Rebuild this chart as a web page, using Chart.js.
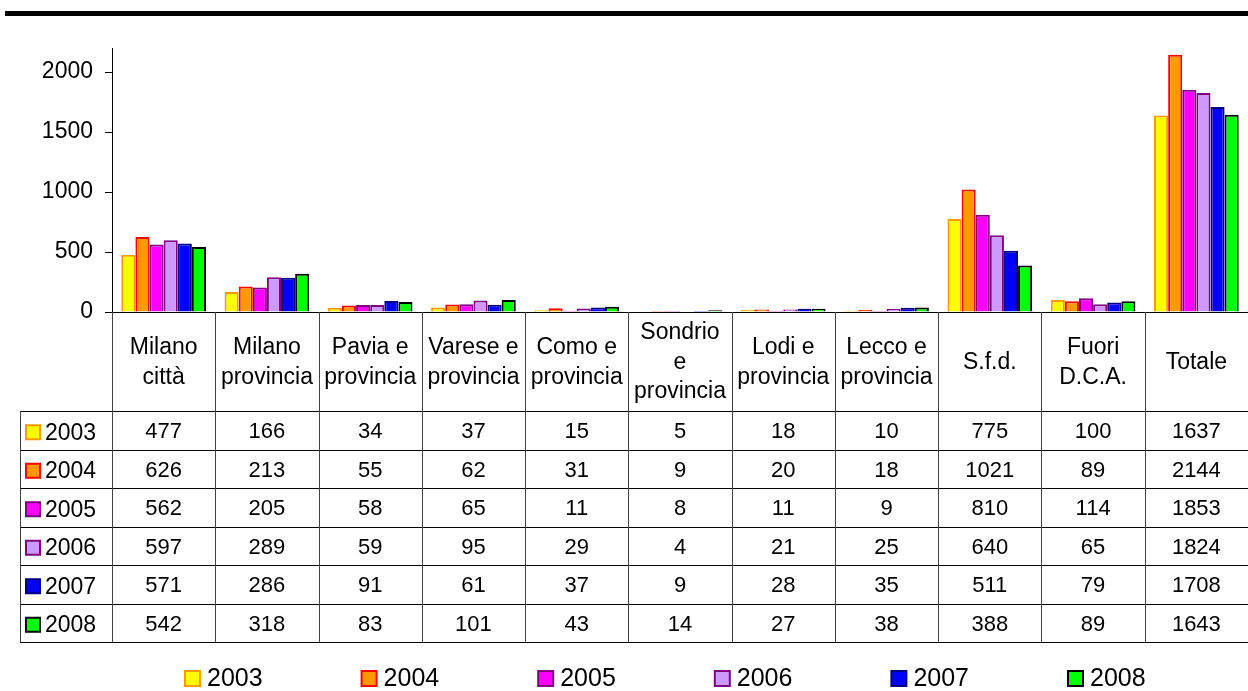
<!DOCTYPE html>
<html>
<head>
<meta charset="utf-8">
<script src="https://cdn.jsdelivr.net/npm/chart.js@4.4.0/dist/chart.umd.min.js"></script>
<style>
    html, body { margin: 0; padding: 0; background: #fff; }
    #wrap { width: 1248px; height: 691px; position: relative; }
</style>
</head>
<body>
<div id="wrap"><canvas id="chart"></canvas></div>
<script>
// Categories (header lines of the data table)
const categories = [
    ['Milano', 'città'], ['Milano', 'provincia'], ['Pavia e', 'provincia'], ['Varese e', 'provincia'],
    ['Como e', 'provincia'], ['Sondrio', 'e', 'provincia'], ['Lodi e', 'provincia'], ['Lecco e', 'provincia'],
    ['S.f.d.'], ['Fuori', 'D.C.A.'], ['Totale']
];
const years = ['2003', '2004', '2005', '2006', '2007', '2008'];

// Series values
const v2003 = [477, 166, 34, 37, 15, 5, 18, 10, 775, 100, 1637];
const v2004 = [626, 213, 55, 62, 31, 9, 20, 18, 1021, 89, 2144];
const v2005 = [562, 205, 58, 65, 11, 8, 11, 9, 810, 114, 1853];
const v2006 = [597, 289, 59, 95, 29, 4, 21, 25, 640, 65, 1824];
const v2007 = [571, 286, 91, 61, 37, 9, 28, 35, 511, 79, 1708];
const v2008 = [542, 318, 83, 101, 43, 14, 27, 38, 388, 89, 1643];
const seriesValues = [v2003, v2004, v2005, v2006, v2007, v2008];

// Colours (fill / border)
const fills = ['#FFFF00', '#FF9900', '#FF00FF', '#CC99FF', '#0000FF', '#00FF00'];
const borders = ['#FF9900', '#FF0000', '#800080', '#800080', '#000080', '#000000'];

// Y axis
const yMax = 2200;
const yTicks = [0, 500, 1000, 1500, 2000];

const FONT = '"Liberation Sans", Arial, sans-serif';

function drawKey(ctx, x, y, size, i) {
    ctx.fillStyle = borders[i];
    ctx.fillRect(x, y, size, size);
    ctx.fillStyle = fills[i];
    ctx.fillRect(x + 2, y + 2, size - 4, size - 4);
}

// Draws the top rule, data table and legend
const tablePlugin = {
    id: 'dataTable',
    beforeDraw(chart) {
        const ctx = chart.ctx;
        ctx.save();
        ctx.fillStyle = '#000';
        ctx.fillRect(5, 11, 1243, 5);
        ctx.restore();
    },
    afterDraw(chart) {
        const ctx = chart.ctx;
        const xs = chart.scales.x;
        const ys = chart.scales.y;
        const base = ys.getPixelForValue(0);
        const half = (xs.getPixelForValue(1) - xs.getPixelForValue(0)) / 2;
        const headBottom = 411;
        const rowH = 38.5;
        const tableBottom = headBottom + rowH * years.length;
        const leftCol = 20;

        ctx.save();
        // x axis line
        ctx.strokeStyle = '#000';
        ctx.lineWidth = 1;
        ctx.beginPath();
        ctx.moveTo(chart.chartArea.left, Math.round(base) + 0.5);
        ctx.lineTo(chart.chartArea.right, Math.round(base) + 0.5);
        ctx.stroke();

        // horizontal rows
        for (let r = 0; r <= years.length; r++) {
            const y = Math.round(headBottom + r * rowH) + 0.5;
            ctx.beginPath();
            ctx.moveTo(leftCol, y);
            ctx.lineTo(chart.chartArea.right, y);
            ctx.stroke();
        }
        // vertical lines
        ctx.strokeStyle = '#444';
        ctx.beginPath();
        ctx.moveTo(leftCol + 0.5, headBottom);
        ctx.lineTo(leftCol + 0.5, tableBottom);
        ctx.stroke();
        categories.forEach((c, i) => {
            const x = Math.round(xs.getPixelForValue(i) - half) + 0.5;
            ctx.beginPath();
            ctx.moveTo(x, base);
            ctx.lineTo(x, tableBottom);
            ctx.stroke();
        });

        // header labels
        ctx.fillStyle = '#000';
        ctx.textAlign = 'center';
        ctx.textBaseline = 'middle';
        ctx.font = '23px ' + FONT;
        const headMid = (base + headBottom) / 2 + 1;
        categories.forEach((lines, i) => {
            const cx = xs.getPixelForValue(i);
            const lh = 29.5;
            lines.forEach((t, k) => {
                ctx.fillText(t, cx, headMid + (k - (lines.length - 1) / 2) * lh);
            });
        });

        // rows
        years.forEach((yr, r) => {
            const cy = headBottom + r * rowH + rowH / 2 + 2;
            drawKey(ctx, 25, cy - 8, 16, r);
            ctx.fillStyle = '#000';
            ctx.textAlign = 'left';
            ctx.font = '23px ' + FONT;
            ctx.fillText(yr, 45, cy + 1);
            ctx.textAlign = 'center';
            ctx.font = '22px ' + FONT;
            seriesValues[r].forEach((v, i) => {
                ctx.fillText(String(v), xs.getPixelForValue(i), cy);
            });
        });

        // legend
        ctx.font = '25px ' + FONT;
        ctx.textAlign = 'left';
        years.forEach((yr, i) => {
            const bx = 184 + i * 176.6;
            drawKey(ctx, bx, 670, 17, i);
            ctx.fillStyle = '#000';
            ctx.fillText(yr, bx + 23, 679);
        });
        ctx.restore();
    }
};

const ctx = document.getElementById('chart').getContext('2d');
const chart = new Chart(ctx, {
    type: 'bar',
    data: {
        labels: categories.map(c => c.join(' ')),
        datasets: years.map((yr, i) => ({
            label: yr,
            data: seriesValues[i],
            backgroundColor: fills[i],
            borderColor: borders[i],
            borderWidth: 2,
            categoryPercentage: 0.82,
            barPercentage: 1.0
        }))
    },
    options: {
        responsive: true,
        maintainAspectRatio: false,
        animation: false,
        layout: {
            padding: { top: 48, bottom: 379, left: 0, right: 0 }
        },
        plugins: {
            legend: { display: false },
            tooltip: { enabled: false }
        },
        scales: {
            x: {
                display: false
            },
            y: {
                min: 0,
                max: yMax,
                afterFit: s => { s.width = 112; },
                afterBuildTicks: s => { s.ticks = yTicks.map(v => ({ value: v })); },
                ticks: {
                    color: '#000',
                    padding: 12,
                    font: { family: FONT, size: 23 },
                    callback: v => String(v)
                },
                grid: {
                    drawOnChartArea: false,
                    drawTicks: true,
                    tickLength: 7,
                    color: '#000'
                },
                border: { display: true, color: '#000', width: 1 }
            }
        }
    },
    plugins: [tablePlugin]
});
</script>
</body>
</html>
